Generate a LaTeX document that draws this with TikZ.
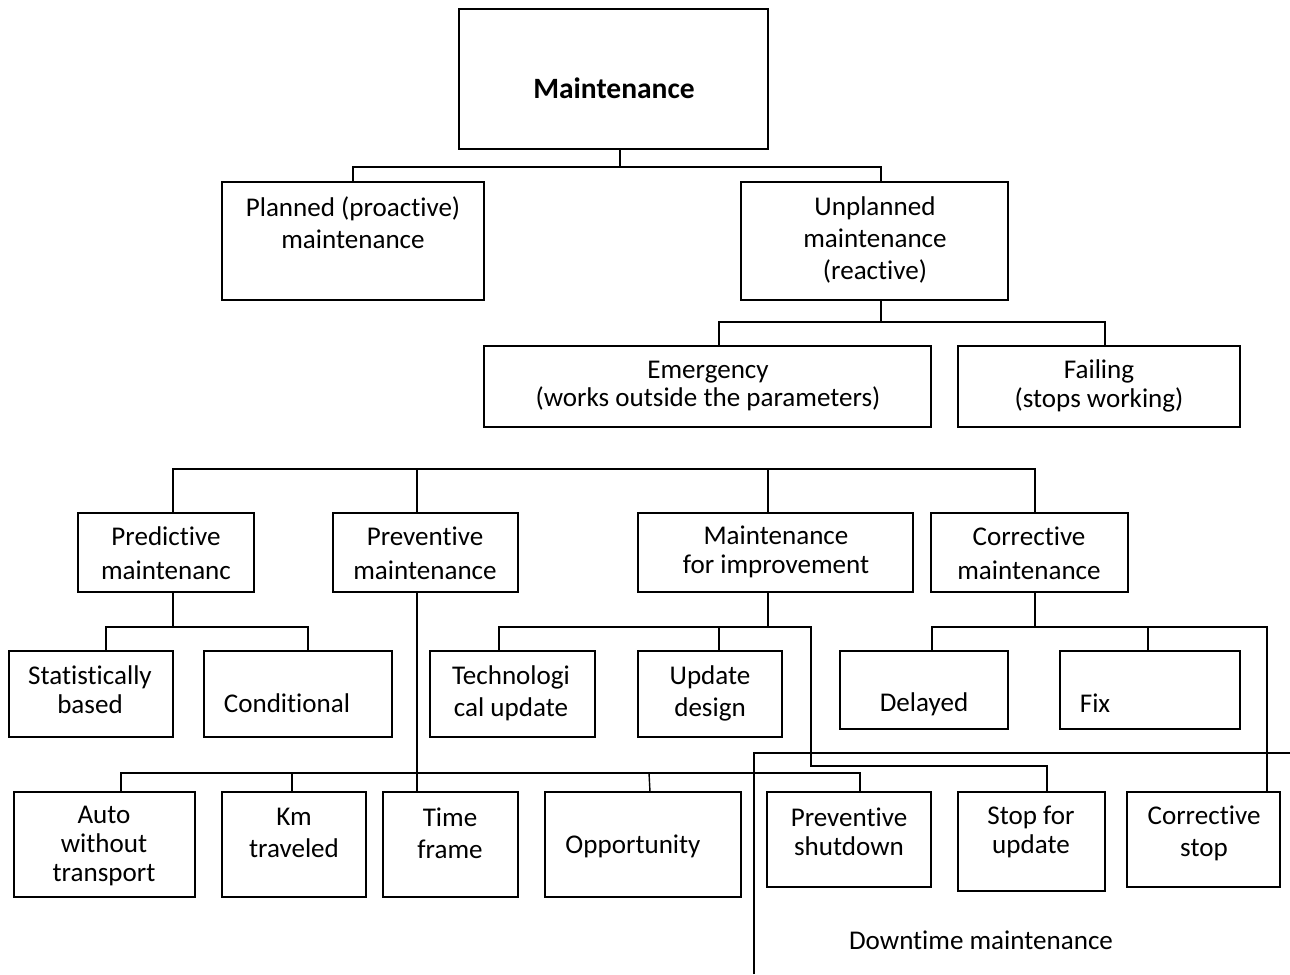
\documentclass[tikz,border=0pt]{standalone}
\usepackage{fontspec}
\setmainfont{Carlito}[Ligatures={NoCommon}]
\usetikzlibrary{calc}
\newcommand\mkbox[5]{%
  \pgfmathsetmacro\bw{(#4-#2)*0.02}%
  \pgfmathsetmacro\bh{(#5-#3)*0.02}%
  \node[boxst, minimum width=\bw cm, minimum height=\bh cm, anchor=north west] (#1) at (#2,#3) {};}
\begin{document}
\begin{tikzpicture}[x=0.02cm, y=-0.02cm,
  boxst/.style={draw, line width=0.8pt, inner sep=0pt, outer sep=0pt},
  txt/.style={align=center, inner sep=0pt, font=\fontsize{15.4}{18.3}\selectfont},
  txtn/.style={align=center, inner sep=0pt, font=\fontsize{15.4}{16.3}\selectfont},
  conn/.style={line width=0.8pt}]
\useasboundingbox (0,0) rectangle (1290,974);
% boxes
\mkbox{main}{459}{9}{768}{149}
\mkbox{plan}{222}{182}{484}{300}
\mkbox{unpl}{741}{182}{1008}{300}
\mkbox{emer}{484}{346}{931}{427}
\mkbox{fail}{958}{346}{1240}{427}
\mkbox{pred}{78}{513}{254}{592}
\mkbox{prev}{333}{513}{518}{592}
\mkbox{impr}{638}{513}{913}{592}
\mkbox{corr}{931}{513}{1128}{592}
\mkbox{stat}{9}{651}{173}{737}
\mkbox{cond}{204}{651}{392}{737}
\mkbox{tech}{430}{651}{595}{737}
\mkbox{upd}{638}{651}{782}{737}
\mkbox{del}{840}{651}{1008}{729}
\mkbox{fix}{1060}{651}{1240}{729}
\mkbox{auto}{14}{792}{195}{897}
\mkbox{km}{222}{792}{366}{897}
\mkbox{time}{383}{792}{518}{897}
\mkbox{opp}{545}{792}{741}{897}
\mkbox{pshut}{767}{792}{931}{887}
\mkbox{stop}{958}{792}{1105}{891}
\mkbox{cstop}{1127}{792}{1280}{887}
% texts
\node[txt, font=\fontsize{16.8}{18.3}\selectfont\bfseries] (main-t) at (614,88) {Maintenance};
\node[txt] (plan-t) at (353,223) {Planned (proactive)\\maintenance};
\node[txt] (unpl-t) at (875,240) {Unplanned\\maintenance\\(reactive)};
\node[txtn] (emer-t) at (708,386) {Emergency\\(works outside the parameters)};
\node[txtn] (fail-t) at (1099,386) {Failing\\(stops working)};
\node[txt, font=\fontsize{15.4}{19.3}\selectfont] (pred-t) at (166,553) {Predictive\\maintenanc};
\node[txt, font=\fontsize{15.4}{19.3}\selectfont] (prev-t) at (425,553) {Preventive\\maintenance};
\node[txtn] (impr-t) at (776,552) {Maintenance\\for improvement};
\node[txt, font=\fontsize{15.4}{19.3}\selectfont] (corr-t) at (1029,553) {Corrective\\maintenance};
\node[txtn] (stat-t) at (90,690) {Statistically\\based};
\node[txt] (cond-t) at (287,703) {Conditional};
\node[txt] (tech-t) at (511,693) {Technologi\\cal update};
\node[txt] (upd-t) at (710,693) {Update\\design};
\node[txt] (del-t) at (924,704) {Delayed};
\node[txt] (fix-t) at (1095,703) {Fix};
\node[txtn] (auto-t) at (104,846) {Auto\\without\\transport};
\node[txt] (km-t) at (294,833) {Km\\traveled};
\node[txt] (time-t) at (450,833) {Time\\frame};
\node[txt] (opp-t) at (633,846) {Opportunity};
\node[txtn] (pshut-t) at (849,832) {Preventive\\shutdown};
\node[txtn] (stop-t) at (1031,832) {Stop for\\update};
\node[txt] (cstop-t) at (1204,833) {Corrective\\stop};
\node[txt] (down-t) at (981,940) {Downtime maintenance};
% connectors: top tree
\draw[conn] ($(main.south west)+(161,0)$) -- ++(0,18) coordinate (j1);
\draw[conn] (plan.north) |- (j1) -| ($(unpl.north west)+(140,0)$);
\draw[conn] ($(unpl.south west)+(140,0)$) -- ++(0,22) coordinate (j2);
\draw[conn] ($(emer.north west)+(235,0)$) |- (j2) -| ($(fail.north west)+(147,0)$);
% second tree
\draw[conn] ($(pred.north west)+(95,0)$) |- ($(corr.north west)+(104,-44)$) -- ($(corr.north west)+(104,0)$);
\draw[conn] ($(prev.north west)+(84,0)$) -- ++(0,-44);
\draw[conn] ($(impr.north west)+(130,0)$) -- ++(0,-44);
% predictive
\draw[conn] ($(pred.south west)+(95,0)$) -- ++(0,35) coordinate (j3);
\draw[conn] ($(stat.north west)+(97,0)$) |- (j3) -| ($(cond.north west)+(104,0)$);
% preventive
\draw[conn] ($(prev.south west)+(84,0)$) -- ($(time.north west)+(34,0)$);
\draw[conn] ($(auto.north west)+(107,0)$) -- ++(0,-19) -| ($(pshut.north west)+(93,0)$);
\draw[conn] ($(km.north west)+(70,0)$) -- ++(0,-19);
\draw[conn] ($(opp.north west)+(105,0)$) -- ++(-1,-19);
% improvement
\draw[conn] ($(impr.south west)+(130,0)$) -- ++(0,35) coordinate (j4);
\draw[conn] ($(tech.north west)+(69,0)$) |- (j4) -| ($(upd.north west)+(81,0)$);
\draw[conn] (j4) -| ($(upd.north west)+(173,115)$) -| ($(stop.north west)+(89,0)$);
% corrective
\draw[conn] ($(corr.south west)+(104,0)$) -- ++(0,35) coordinate (j6);
\draw[conn] ($(del.north west)+(92,0)$) |- (j6) -| ($(cstop.north west)+(140,0)$);
\draw[conn] ($(fix.north west)+(88,0)$) -- ++(0,-24);
% downtime bracket
\coordinate (dt1) at (754,974);
\coordinate (dt2) at (1290,753);
\draw[conn] (dt1) |- (dt2);
\end{tikzpicture}
\end{document}
